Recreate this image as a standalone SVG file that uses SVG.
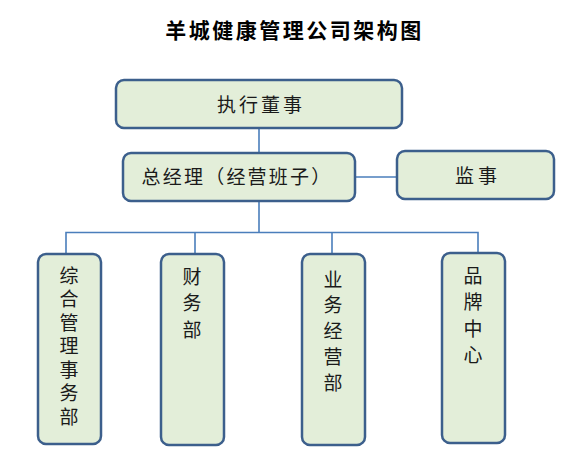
<svg xmlns="http://www.w3.org/2000/svg" width="570" height="475" viewBox="0 0 570 475">
<style>
.box{fill:#E3EED9;stroke:#3C5F8C;stroke-width:2.5}
.conn{fill:none;stroke:#4A7EBB;stroke-width:1.6}
.t{font-family:"Noto Sans CJK SC","Noto Sans CJK JP",sans-serif;font-size:19px;fill:#1a1a1a}
.v{writing-mode:vertical-rl;text-orientation:upright}
.title{font-family:"Noto Sans CJK SC","Noto Sans CJK JP",sans-serif;font-size:21px;font-weight:bold;fill:#000}
</style>
<rect width="570" height="475" fill="#fff"/>
<text class="title" x="294.5" y="38" text-anchor="middle" letter-spacing="2.5">羊城健康管理公司架构图</text>
<g id="connectors">
<line class="conn" x1="259" y1="128" x2="259" y2="153"/>
<line class="conn" x1="355" y1="177" x2="397" y2="177"/>
<line class="conn" x1="259" y1="201" x2="259" y2="232.5"/>
<polyline class="conn" points="66,254 66,232.5 478,232.5 478,253"/>
<line class="conn" x1="195" y1="232.5" x2="195" y2="254"/>
<line class="conn" x1="332" y1="232.5" x2="332" y2="254"/>
</g>
<g id="n1">
<rect class="box" x="116" y="80" width="286" height="48" rx="8"/>
<text class="t" x="261" y="112" text-anchor="middle" letter-spacing="3">执行董事</text>
</g>
<g id="n2">
<rect class="box" x="123" y="153" width="232" height="48" rx="8"/>
<text class="t" x="237" y="184" text-anchor="middle" letter-spacing="2.2">总经理（经营班子）</text>
</g>
<g id="n3">
<rect class="box" x="397" y="151" width="157" height="48" rx="8"/>
<text class="t" x="478" y="183" text-anchor="middle" letter-spacing="4">监事</text>
</g>
<g id="n4">
<rect class="box" x="38" y="254" width="63" height="190" rx="8"/>
<text class="t v" x="69" y="266" letter-spacing="4.5">综合管理事务部</text>
</g>
<g id="n5">
<rect class="box" x="161" y="254" width="63" height="191" rx="8"/>
<text class="t v" x="192" y="267" letter-spacing="7.5">财务部</text>
</g>
<g id="n6">
<rect class="box" x="302" y="254" width="63" height="191" rx="8"/>
<text class="t v" x="333" y="270" letter-spacing="6.7">业务经营部</text>
</g>
<g id="n7">
<rect class="box" x="442" y="253" width="63" height="190" rx="8"/>
<text class="t v" x="473" y="266" letter-spacing="7.5">品牌中心</text>
</g>
</svg>
